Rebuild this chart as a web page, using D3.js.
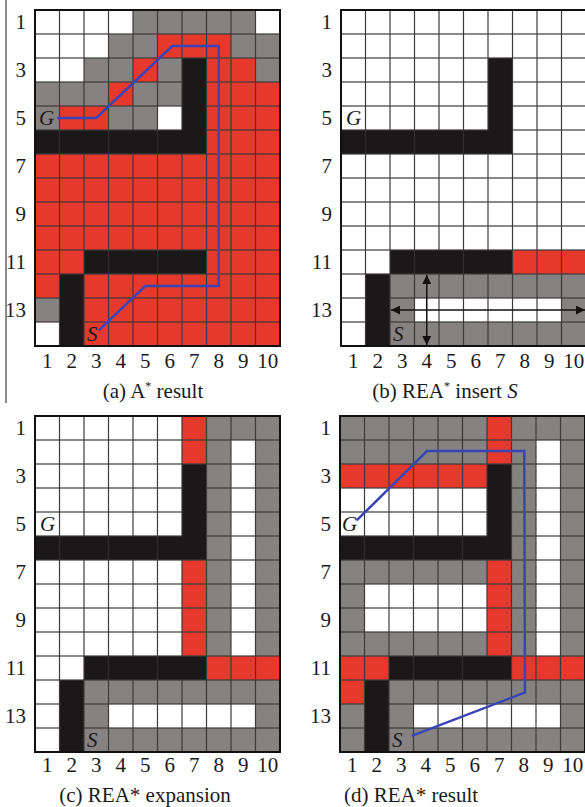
<!DOCTYPE html>
<html>
<head>
<meta charset="utf-8">
<script src="https://cdn.jsdelivr.net/npm/d3@7"></script>
<style>
  body { margin: 0; background: #fff; }
</style>
</head>
<body>
<div id="chart"></div>
<script>
// grid cell states, one string per row (W white, G gray/closed, R red/open, B black/obstacle)
let gridA = [
  "WWWWGGGGGW",
  "WWWGGRRRGG",
  "WWGGRGBRRG",
  "GGGRGGBRRR",
  "GRRGGWBRRR",
  "BBBBBBBRRR",
  "RRRRRRRRRR",
  "RRRRRRRRRR",
  "RRRRRRRRRR",
  "RRRRRRRRRR",
  "RRBBBBBRRR",
  "RBRRRRRRRR",
  "GBRRRRRRRR",
  "WBRRRRRRRR"
];
let gridB = [
  "WWWWWWWWWW",
  "WWWWWWWWWW",
  "WWWWWWBWWW",
  "WWWWWWBWWW",
  "WWWWWWBWWW",
  "BBBBBBBWWW",
  "WWWWWWWWWW",
  "WWWWWWWWWW",
  "WWWWWWWWWW",
  "WWWWWWWWWW",
  "WWBBBBBRRR",
  "WBGGGGGGGG",
  "WBGWWWWWWG",
  "WBGGGGGGGG"
];
let gridC = [
  "WWWWWWRGGG",
  "WWWWWWRGWG",
  "WWWWWWBGWG",
  "WWWWWWBGWG",
  "WWWWWWBGWG",
  "BBBBBBBGWG",
  "WWWWWWRGWG",
  "WWWWWWRGWG",
  "WWWWWWRGWG",
  "WWWWWWRGWG",
  "WWBBBBBRRR",
  "WBGGGGGGGG",
  "WBGWWWWWWG",
  "WBGGGGGGGG"
];
let gridD = [
  "GGGGGGRGGG",
  "GGGGGGRGWG",
  "RRRRRRBGWG",
  "WWWWWWBGWG",
  "WWWWWWBGWG",
  "BBBBBBBGWG",
  "GGGGGGRGWG",
  "GWWWWWRGWG",
  "GWWWWWRGWG",
  "GGGGGGRGWG",
  "RRBBBBBRRR",
  "RBGGGGGGGG",
  "GBGWWWWWWG",
  "GBGGGGGGGG"
];

// planned paths in cell units [column, row] from the grid's top-left corner
let pathA = [[0.9, 4.5], [2.5, 4.5], [5.6, 1.5], [7.5, 1.5], [7.5, 11.5], [4.5, 11.5], [2.6, 13.35]];
let pathD = [[0.68, 4.35], [3.55, 1.46], [7.52, 1.46], [7.55, 11.52], [2.93, 13.33]];

let colLabels = [1, 2, 3, 4, 5, 6, 7, 8, 9, 10];
let rowLabels = [1, 3, 5, 7, 9, 11, 13];

let captions = [
  [{t: "(a) A"}, {t: "*", sup: true}, {t: " result"}],
  [{t: "(b) REA"}, {t: "*", sup: true}, {t: " insert "}, {t: "S", it: true}],
  [{t: "(c) REA* expansion"}],
  [{t: "(d) REA* result"}]
];

let fill = {W: "#ffffff", G: "#878282", R: "#e5392e", B: "#1b1819"};

let width = 585, height = 807;
let cellW = 24.5, cellH = 24;
let fontSize = 21;

let svg = d3.select("#chart").append("svg")
  .attr("width", width)
  .attr("height", height)
  .style("font-family", "'Liberation Serif', 'Times New Roman', Times, serif");

// thin divider on the far left
svg.append("line")
  .attr("x1", 6).attr("x2", 6)
  .attr("y1", 0).attr("y2", 403)
  .attr("stroke", "#8a8a8a")
  .attr("stroke-width", 2);

let panels = [
  {grid: gridA, left: 35, top: 10, cap: captions[0], capX: 153, capY: 398, labY: 368, path: pathA, G: 4},
  {grid: gridB, left: 341, top: 10, cap: captions[1], capX: 445, capY: 398, labY: 368, arrows: true, G: 5},
  {grid: gridC, left: 35, top: 416, cap: captions[2], capX: 145, capY: 802, labY: 772, G: 5},
  {grid: gridD, left: 340, top: 416, cap: captions[3], capX: 411, capY: 802, labY: 772, path: pathD, G: 2}
];

// arrowhead marker
svg.append("defs").append("marker")
  .attr("id", "head")
  .attr("viewBox", "0 0 10 10")
  .attr("refX", 10).attr("refY", 5)
  .attr("markerWidth", 13).attr("markerHeight", 9)
  .attr("markerUnits", "userSpaceOnUse")
  .attr("orient", "auto-start-reverse")
  .append("path")
  .attr("d", "M0,0 L10,5 L0,10 Z")
  .attr("fill", "#111");

panels.forEach(function(p) {
  let x = d3.scaleLinear().domain([0, 10]).range([p.left, p.left + 10 * cellW]);
  let y = d3.scaleLinear().domain([0, 14]).range([p.top, p.top + 14 * cellH]);
  let g = svg.append("g");

  // cells
  let cells = [];
  p.grid.forEach(function(row, r) {
    row.split("").forEach(function(c, k) { cells.push({r: r, k: k, c: c}); });
  });
  g.selectAll("rect.cell")
    .data(cells)
    .enter()
    .append("rect")
    .attr("class", "cell")
    .attr("x", d => x(d.k))
    .attr("y", d => y(d.r))
    .attr("width", cellW + 0.3)
    .attr("height", cellH + 0.3)
    .attr("fill", d => fill[d.c]);

  // grid lines, not drawn across obstacles
  let lines = [];
  for (let r = 0; r < 14; r++) {
    for (let k = 1; k < 10; k++) {
      let a = p.grid[r][k - 1], b = p.grid[r][k];
      if (a == "B" && b == "B") continue;
      lines.push([x(k), y(r), x(k), y(r + 1)]);
    }
  }
  for (let r = 1; r < 14; r++) {
    for (let k = 0; k < 10; k++) {
      let a = p.grid[r - 1][k], b = p.grid[r][k];
      if (a == "B" && b == "B") continue;
      lines.push([x(k), y(r), x(k + 1), y(r)]);
    }
  }
  g.selectAll("line.grid")
    .data(lines)
    .enter()
    .append("line")
    .attr("x1", d => d[0]).attr("y1", d => d[1])
    .attr("x2", d => d[2]).attr("y2", d => d[3])
    .attr("stroke", "#3d3a3a")
    .attr("stroke-width", 1.2);

  // outer border
  g.append("rect")
    .attr("x", x(0)).attr("y", y(0))
    .attr("width", x(10) - x(0)).attr("height", y(14) - y(0))
    .attr("fill", "none")
    .attr("stroke", "#111")
    .attr("stroke-width", 2);

  // arrows of the inserted start (panel b)
  if (p.arrows) {
    g.append("line")
      .attr("x1", x(3.5)).attr("y1", y(11) + 1)
      .attr("x2", x(3.5)).attr("y2", y(14) - 1)
      .attr("stroke", "#111").attr("stroke-width", 1.5)
      .attr("marker-start", "url(#head)")
      .attr("marker-end", "url(#head)");
    g.append("line")
      .attr("x1", x(2) + 1).attr("y1", y(12.5))
      .attr("x2", x(10) - 1).attr("y2", y(12.5))
      .attr("stroke", "#111").attr("stroke-width", 1.5)
      .attr("marker-start", "url(#head)")
      .attr("marker-end", "url(#head)");
  }

  // path
  if (p.path) {
    g.append("path")
      .attr("d", d3.line().x(d => x(d[0])).y(d => y(d[1]))(p.path))
      .attr("fill", "none")
      .attr("stroke", "#3a45b5")
      .attr("stroke-width", 2.5);
  }

  // G and S marks
  g.append("text")
    .attr("x", x(0) + p.G).attr("y", y(4.5) + 7)
    .attr("font-size", fontSize).attr("font-style", "italic")
    .attr("fill", "#1a1a1a")
    .text("G");
  g.append("text")
    .attr("x", x(2) + 3).attr("y", y(13.5) + 7)
    .attr("font-size", fontSize).attr("font-style", "italic")
    .attr("fill", "#1a1a1a")
    .text("S");

  // column labels
  g.selectAll("text.col")
    .data(colLabels)
    .enter()
    .append("text")
    .attr("class", "col")
    .attr("x", d => x(d - 0.5))
    .attr("y", p.labY)
    .attr("text-anchor", "middle")
    .attr("font-size", fontSize)
    .attr("fill", "#1a1a1a")
    .text(d => d);

  // row labels
  g.selectAll("text.row")
    .data(rowLabels)
    .enter()
    .append("text")
    .attr("class", "row")
    .attr("x", x(0) - 9)
    .attr("y", d => y(d - 0.5) + 7)
    .attr("text-anchor", "end")
    .attr("font-size", fontSize)
    .attr("fill", "#1a1a1a")
    .text(d => d);

  // caption
  let cap = g.append("text")
    .attr("x", p.capX).attr("y", p.capY)
    .attr("text-anchor", "middle")
    .attr("font-size", fontSize)
    .attr("fill", "#1a1a1a");
  p.cap.forEach(function(s, i) {
    let t = cap.append("tspan").text(s.t);
    if (s.sup) t.attr("font-size", 12).attr("dy", -8);
    else if (i > 0 && p.cap[i - 1].sup) t.attr("dy", 8);
    if (s.it) t.attr("font-style", "italic");
  });
});
</script>
</body>
</html>
